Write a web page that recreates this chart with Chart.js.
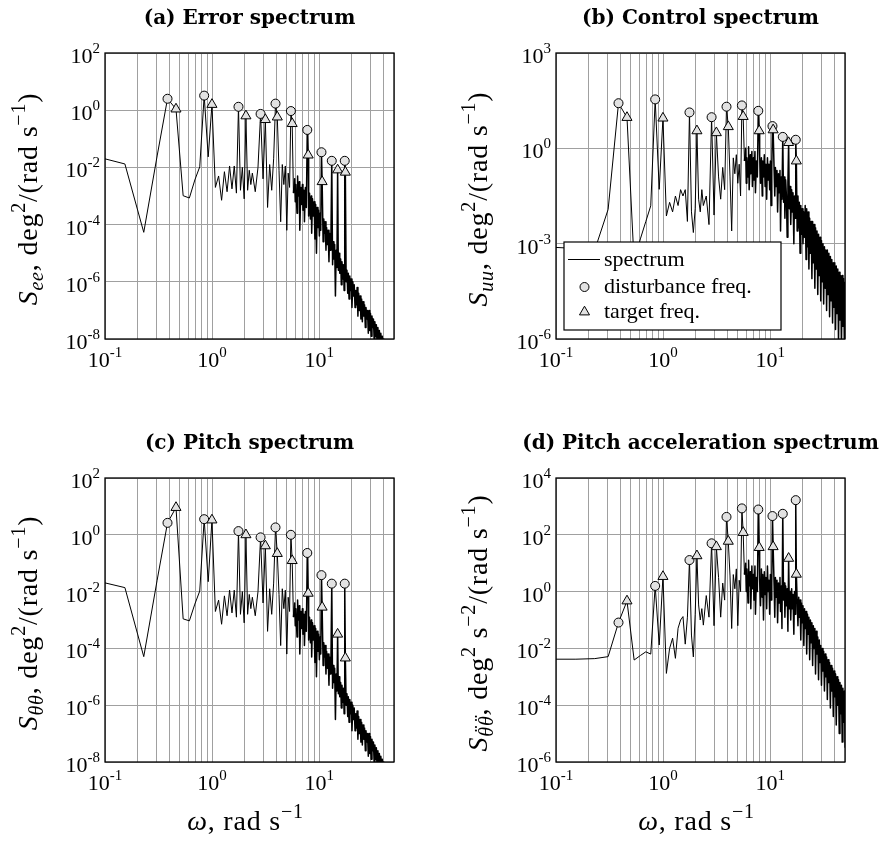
<!DOCTYPE html>
<html>
<head>
<meta charset="utf-8">
<script src="https://cdn.jsdelivr.net/npm/chart.js@4.4.0/dist/chart.umd.min.js"></script>
<style>
  body { margin: 0; background: #fff; }
  #wrap { position: relative; width: 886px; height: 841px; }
  canvas { position: absolute; }
</style>
</head>
<body>
<div id="wrap">
  <canvas id="pa" width="443" height="420" style="left:0;top:0"></canvas>
  <canvas id="pb" width="443" height="420" style="left:443px;top:0"></canvas>
  <canvas id="pc" width="443" height="420" style="left:0;top:421px"></canvas>
  <canvas id="pd" width="443" height="420" style="left:443px;top:421px"></canvas>
</div>
<script>
// frequency resolution of the spectra (measurement time 81.92 s)
const DW = 2 * Math.PI / 81.92;

// FFT bins used for the spectrum lines (shared by all four panels)
const bins = [
  1, 2, 3, 4, 5, 6, 7, 8, 9, 10,
  11, 12, 13, 14, 15, 16, 17, 18, 19, 20,
  21, 22, 23, 24, 25, 26, 27, 28, 29, 30,
  31, 33, 35, 37, 39, 41, 43, 45, 47, 49,
  51, 53, 55, 57, 59, 61, 63, 65, 67, 69,
  71, 73, 75,
  77, 78, 79, 81, 82, 83, 85, 86, 88, 89,
  91, 92, 94, 95, 97, 99, 101, 103, 104, 106,
  108, 110, 111, 113, 115, 117, 119, 121, 123, 125,
  127, 129, 131, 133, 135, 137, 139, 142, 144, 146,
  148, 151, 153, 156, 158, 161, 163, 166, 168, 171,
  174, 177, 179, 182, 185, 188, 191, 194, 197, 200,
  203, 207, 210, 213, 217, 220, 223, 226, 229, 233,
  237, 241, 244, 248, 252, 256, 260, 264, 269, 273,
  277, 282, 286, 291, 295, 300, 305, 310, 315, 320,
  325, 330, 335, 341, 346, 352, 357, 363, 369, 375,
  381, 387, 393, 399, 406, 412, 419, 426, 432, 439,
  446, 453, 461, 468, 476, 483, 491, 499, 507, 515,
  523, 532, 540, 549, 558, 567, 576, 585, 594, 604,
  614, 623, 633, 644, 654, 660
];

// forcing function bins
const distBins = [5, 11, 23, 37, 51, 71, 101, 137, 171, 226];
const targBins = [6, 13, 27, 41, 53, 73, 103, 139, 194, 229];

// vertical grid lines
const xGrid = [0.1, 0.2, 0.3, 0.4, 0.5, 0.6, 0.7, 0.8, 0.9,
  1, 2, 3, 4, 5, 6, 7, 8, 9, 10, 20, 30, 40, 50];

// spectra, log10 of the value
const errSpec = [
  -1.59, -1.88, -4.27, -1.60, 0.40, 0.04, -2.99, -3.07, -2.44, -1.98,
  0.51, -1.63, 0.20, -2.70, -2.30, -3.15, -2.15, -2.85, -1.95, -2.75,
  -1.95, -2.90, 0.12, -2.80, -2.00, -3.10, -0.20, -2.80, -2.10, -2.60,
  -2.20, -2.85, -2.00, -0.13, -2.40, -0.33, -3.40, -1.90, -2.80, -1.70,
  0.23, -0.24, -2.10, -3.90, -1.90, -2.60, -1.95, -4.20, -2.20, -2.70,
  -0.03, -0.47, -2.90,
  -2.4, -3.2, -2.6, -3.6, -2.3, -3.0, -2.5, -4.2, -2.7, -3.3,
  -2.6, -3.5, -2.8, -3.9, -2.7, -3.4, -0.69, -1.57, -3.7, -2.9,
  -3.8, -3.0, -4.3, -3.1, -3.7, -3.2, -4.5, -3.3, -5.0, -3.4,
  -4.1, -3.5, -4.4, -3.6, -4.2, -1.47, -2.50, -4.6, -3.8, -4.3,
  -3.9, -4.9, -4.1, -4.7, -4.2, -5.3, -4.3, -4.9, -4.4, -1.77,
  -5.4, -4.6, -5.2, -4.7, -6.5, -4.9, -5.5, -2.09, -5.6, -5.0,
  -5.7, -5.2, -6.1, -5.3, -5.9, -5.4, -6.3, -1.77, -2.17, -6.0,
  -5.6, -6.4, -5.7, -6.6, -5.8, -6.3, -5.9, -6.9, -6.0, -6.5,
  -6.1, -6.9, -6.3, -6.8, -6.2, -7.2, -6.4, -7.0, -6.5, -7.3,
  -6.6, -7.4, -6.7, -7.2, -6.8, -7.6, -6.9, -7.3, -7.0, -7.8,
  -7.0, -7.7, -7.1, -7.9, -7.2, -7.6, -7.3, -8.1, -7.4, -7.9,
  -7.5, -8.2, -7.6, -8.0, -7.7, -8.4, -7.8, -8.2, -7.9, -8.6,
  -8.0, -8.5, -8.1, -8.7, -8.2, -8.6, -8.3, -8.9, -8.4, -8.8,
  -8.5, -9.0, -8.6, -9.1, -8.7, -9.0
];
const ctrlSpec = [
  -3.10, -3.15, -3.20, -1.92, 1.42, 0.97, -3.60, -2.85, -2.30, -1.81,
  1.54, -1.29, 0.95, -2.13, -1.70, -2.00, -1.50, -1.80, -1.30, -1.50,
  -1.30, -2.30, 1.13, -2.00, -2.65, -1.90, 0.55, -1.60, -2.00, -1.30,
  -1.80, -1.50, -2.40, 0.98, -2.10, 0.49, -0.90, -1.60, -0.60, -1.30,
  1.31, 0.68, -0.90, -2.60, -0.30, -0.80, -0.20, -1.10, -0.50, -1.50,
  1.35, 1.00, -0.40,
  0.0, -1.1, -0.3, -0.9, 0.05, -1.3, -0.2, -0.8, -0.1, -1.2,
  -0.3, -1.0, -0.1, -1.4, -0.4, -0.9, 1.18, 0.55, -0.2, -1.1,
  -0.3, -1.5, -0.4, -0.9, -0.2, -1.2, -0.5, -1.6, -0.3, -1.0,
  -0.5, -1.3, -0.4, -1.8, -0.6, 0.70, 0.58, -0.7, -1.5, -0.6,
  -1.2, -0.7, -2.0, -0.8, -1.4, -0.7, -2.6, -0.9, -1.6, 0.36,
  -1.7, -0.9, -2.2, -1.0, -1.5, -2.8, -1.1, 0.18, -1.9, -1.2,
  -2.4, -1.3, -2.0, -1.4, -3.0, -1.5, -2.2, 0.27, -0.40, -2.6,
  -1.5, -2.5, -1.7, -3.3, -1.8, -2.7, -1.9, -3.0, -2.0, -2.8,
  -1.8, -3.5, -1.9, -3.1, -2.0, -3.8, -2.2, -3.3, -2.3, -4.1,
  -2.3, -3.6, -2.4, -4.4, -2.5, -3.8, -2.6, -4.6, -2.7, -4.0,
  -2.8, -4.8, -2.9, -4.2, -3.0, -4.9, -3.1, -4.4, -3.2, -5.1,
  -3.2, -4.6, -3.3, -5.3, -3.4, -4.8, -3.5, -5.5, -3.6, -5.0,
  -3.6, -5.7, -3.7, -5.2, -3.8, -6.1, -3.9, -5.4, -4.0, -6.3,
  -4.0, -5.6, -4.1, -6.4, -4.2, -6.2
];
const pitchSpec = [
  -1.59, -1.86, -4.29, -1.60, 0.42, 0.96, -2.96, -3.03, -2.44, -1.98,
  0.55, -1.65, 0.52, -2.70, -2.30, -3.15, -2.15, -2.85, -1.95, -2.75,
  -1.95, -2.90, 0.13, -2.80, -2.00, -3.10, 0.00, -2.80, -2.10, -2.60,
  -2.20, -2.85, -2.00, -0.09, -2.40, -0.39, -3.40, -1.90, -2.80, -1.70,
  0.26, -0.66, -2.10, -3.90, -1.90, -2.60, -1.95, -4.20, -2.20, -2.70,
  0.00, -0.91, -2.90,
  -2.4, -3.2, -2.6, -3.6, -2.3, -3.0, -2.5, -4.2, -2.7, -3.3,
  -2.6, -3.5, -2.8, -3.9, -2.7, -3.4, -0.64, -2.06, -3.7, -2.9,
  -3.8, -3.0, -4.3, -3.1, -3.7, -3.2, -4.5, -3.3, -5.0, -3.4,
  -4.1, -3.5, -4.4, -3.6, -4.2, -1.42, -2.55, -4.6, -3.8, -4.3,
  -3.9, -4.9, -4.1, -4.7, -4.2, -5.3, -4.3, -4.9, -4.4, -1.72,
  -5.4, -4.6, -5.2, -4.7, -6.5, -4.9, -5.5, -3.50, -5.6, -5.0,
  -5.7, -5.2, -6.1, -5.3, -5.9, -5.4, -6.3, -1.72, -4.34, -6.0,
  -5.6, -6.4, -5.7, -6.6, -5.8, -6.3, -5.9, -6.9, -6.0, -6.5,
  -6.1, -6.9, -6.3, -6.8, -6.2, -7.2, -6.4, -7.0, -6.5, -7.3,
  -6.6, -7.4, -6.7, -7.2, -6.8, -7.6, -6.9, -7.3, -7.0, -7.8,
  -7.0, -7.7, -7.1, -7.9, -7.2, -7.6, -7.3, -8.1, -7.4, -7.9,
  -7.5, -8.2, -7.6, -8.0, -7.7, -8.4, -7.8, -8.2, -7.9, -8.6,
  -8.0, -8.5, -8.1, -8.7, -8.2, -8.6, -8.3, -8.9, -8.4, -8.8,
  -8.5, -9.0, -8.6, -9.1, -8.7, -9.0
];
const accSpec = [
  -2.38, -2.38, -2.36, -2.29, -1.09, -0.33, -2.41, -2.25, -2.12, -2.20,
  0.20, -1.88, 0.53, -2.88, -2.00, -1.64, -2.35, -1.29, -1.00, -0.88,
  -1.85, -0.90, 1.11, -1.53, -2.30, -0.80, 1.26, -0.47, -1.00, -0.60,
  -1.18, -0.14, -0.90, 1.70, -1.20, 1.58, 0.50, -0.90, 0.30, -0.30,
  2.63, 1.77, 0.55, -1.30, 0.60, 0.10, 0.80, -1.20, 0.40, 0.00,
  2.93, 2.08, 0.60,
  1.0, 0.0, 0.8, -0.4, 1.1, 0.2, 0.7, -0.6, 0.9, 0.1,
  0.6, -0.3, 0.9, -0.8, 0.5, 0.0, 2.89, 1.55, 0.4, -0.5,
  0.8, -0.2, 0.6, -1.0, 0.7, -0.1, 0.5, -0.6, 0.9, 0.0,
  0.4, -0.8, 0.6, -0.3, 0.3, 2.66, 1.58, 0.2, -0.9, 0.5,
  -0.2, 0.4, -1.1, 0.3, -0.4, 0.5, -0.7, 0.2, -1.3, 2.74,
  -0.3, 0.3, -0.9, 0.2, -0.5, 0.1, -1.4, 1.17, -0.6, 0.0,
  -1.0, 0.1, -0.6, -0.1, -1.5, 0.0, -0.8, 3.22, 0.61, -0.3,
  -1.2, -0.2, -0.9, -0.3, -1.7, -0.4, -1.1, -0.5, -1.9, -0.6,
  -1.3, -0.7, -2.2, -0.8, -1.5, -0.9, -2.4, -1.0, -1.8, -1.1,
  -2.6, -1.2, -2.0, -1.3, -2.9, -1.4, -2.2, -1.6, -3.1, -1.7,
  -2.5, -1.9, -3.3, -2.0, -2.8, -2.1, -3.5, -2.2, -3.0, -2.3,
  -3.8, -2.4, -3.2, -2.5, -4.1, -2.6, -3.5, -2.7, -4.4, -2.8,
  -3.7, -2.9, -4.7, -3.0, -4.0, -3.1, -5.0, -3.2, -4.3, -3.3,
  -5.3, -3.4, -4.6, -3.5, -5.5, -3.6
];

// marker levels (log10) at the disturbance / target frequencies
const errDist = [0.40, 0.51, 0.12, -0.13, 0.23, -0.03, -0.69, -1.47, -1.77, -1.77];
const errTarg = [0.04, 0.20, -0.20, -0.33, -0.24, -0.47, -1.57, -2.50, -2.09, -2.17];
const ctrlDist = [1.42, 1.54, 1.13, 0.98, 1.31, 1.35, 1.18, 0.70, 0.36, 0.27];
const ctrlTarg = [0.97, 0.95, 0.55, 0.49, 0.68, 1.00, 0.55, 0.58, 0.18, -0.40];
const pitchDist = [0.42, 0.55, 0.13, -0.09, 0.26, 0.00, -0.64, -1.42, -1.72, -1.72];
const pitchTarg = [0.96, 0.52, 0.00, -0.39, -0.66, -0.91, -2.06, -2.55, -3.50, -4.34];
const accDist = [-1.09, 0.20, 1.11, 1.70, 2.63, 2.93, 2.89, 2.66, 2.74, 3.22];
const accTarg = [-0.33, 0.53, 1.26, 1.58, 1.77, 2.08, 1.55, 1.58, 1.17, 0.61];

// y tick exponents
const yExpA = [2, 0, -2, -4, -6, -8];
const yExpB = [3, 0, -3, -6];
const yExpD = [4, 2, 0, -2, -4, -6];
const xExp = [-1, 0, 1];

const SERIF = '"Liberation Serif", "Times New Roman", serif';
const GRID = '#a0a0a0';
const MARK_FILL = '#e2e2e2';

function toPoints(ks, logs) {
  return ks.map((k, i) => ({ x: k * DW, y: Math.pow(10, logs[i]) }));
}

// rich text helpers (sub/superscripts)
function segFont(s) {
  return (s.b ? 'bold ' : '') + (s.i ? 'italic ' : '') + s.size + 'px ' + SERIF;
}
function richWidth(ctx, segs, ls) {
  ctx.letterSpacing = (ls || 0) + 'px';
  let w = 0;
  segs.forEach(s => { ctx.font = segFont(s); w += ctx.measureText(s.t).width; });
  ctx.letterSpacing = '0px';
  return w;
}
function drawRich(ctx, segs, x, y, ls) {
  ctx.letterSpacing = (ls || 0) + 'px';
  segs.forEach(s => {
    ctx.font = segFont(s);
    const wt = ctx.measureText(s.t).width;
    ctx.fillText(s.t, x, y + (s.dy || 0));
    if (s.acc) {
      // double dot over the glyph
      const wa = ctx.measureText(s.acc).width;
      ctx.fillText(s.acc, x + wt / 2 - wa / 2 + 1.5, y + (s.dy || 0) - 4);
    }
    x += wt;
  });
  ctx.letterSpacing = '0px';
}

function drawPow(ctx, exp, x, y, align) {
  const segs = [{ t: '10', size: 22 }, { t: String(exp), size: 15, dy: -10 }];
  const w = richWidth(ctx, segs);
  drawRich(ctx, segs, align === 'right' ? x - w : x - w / 2, y);
}

function yLabelSegs(sub, extra) {
  const M = 28, m = 20;
  const segs = [{ t: 'S', i: true, size: M }];
  sub.forEach(c => segs.push(Object.assign({ i: true, size: m, dy: 6 }, c)));
  segs.push({ t: ', deg', size: M }, { t: '2', size: m, dy: -12 });
  if (extra) segs.push({ t: ' s', size: M }, { t: '\u22122', size: m, dy: -12 });
  segs.push({ t: '/(rad s', size: M }, { t: '\u22121', size: m, dy: -12 }, { t: ')', size: M });
  return segs;
}

const panels = {
  pa: { title: '(a) Error spectrum', spec: errSpec, dist: errDist, targ: errTarg,
        yExp: yExpA, ylab: yLabelSegs([{ t: 'ee' }]), labX: 37,
        pad: { left: 105, right: 49, top: 53, bottom: 81 } },
  pb: { title: '(b) Control spectrum', spec: ctrlSpec, dist: ctrlDist, targ: ctrlTarg,
        yExp: yExpB, ylab: yLabelSegs([{ t: 'uu' }]), labX: 44, legend: true,
        pad: { left: 113, right: 41, top: 53, bottom: 81 } },
  pc: { title: '(c) Pitch spectrum', spec: pitchSpec, dist: pitchDist, targ: pitchTarg,
        yExp: yExpA, ylab: yLabelSegs([{ t: '\u03b8\u03b8' }]), labX: 37, xlab: true,
        pad: { left: 105, right: 49, top: 57, bottom: 79 } },
  pd: { title: '(d) Pitch acceleration spectrum', spec: accSpec, dist: accDist, targ: accTarg,
        yExp: yExpD, ylab: yLabelSegs([{ t: '\u03b8', acc: '\u00a8' }, { t: '\u03b8', acc: '\u00a8' }], true),
        labX: 44, xlab: true, pad: { left: 113, right: 41, top: 57, bottom: 79 } }
};

function drawTriangle(ctx, x, y, r) {
  ctx.beginPath();
  ctx.moveTo(x, y - r);
  ctx.lineTo(x + r * 0.866, y + r / 2);
  ctx.lineTo(x - r * 0.866, y + r / 2);
  ctx.closePath();
  ctx.fill();
  ctx.stroke();
}

const decor = {
  id: 'decor',
  afterDraw(chart) {
    const p = panels[chart.canvas.id];
    const ctx = chart.ctx;
    const a = chart.chartArea;
    const xs = chart.scales.x, ys = chart.scales.y;
    ctx.save();
    // frame
    ctx.strokeStyle = '#000';
    ctx.lineWidth = 1.3;
    ctx.strokeRect(a.left, a.top, a.right - a.left, a.bottom - a.top);

    // legend box
    if (p.legend) {
      ctx.fillStyle = '#fff';
      ctx.fillRect(a.left + 8, 242, 217, 88);
      ctx.lineWidth = 1.2;
      ctx.strokeRect(a.left + 8, 242, 217, 88);
      ctx.beginPath();
      ctx.moveTo(a.left + 12, 259.5);
      ctx.lineTo(a.left + 44, 259.5);
      ctx.lineWidth = 1;
      ctx.stroke();
      ctx.fillStyle = MARK_FILL;
      ctx.beginPath();
      ctx.arc(a.left + 28.5, 287, 4.5, 0, Math.PI * 2);
      ctx.fill();
      ctx.stroke();
      drawTriangle(ctx, a.left + 28.5, 312, 5.8);
      ctx.fillStyle = '#000';
      ctx.font = '22px ' + SERIF;
      ctx.textBaseline = 'alphabetic';
      ctx.fillText('spectrum', a.left + 48, 266);
      ctx.fillText('disturbance freq.', a.left + 48, 293);
      ctx.fillText('target freq.', a.left + 48, 318);
    }

    ctx.fillStyle = '#000';
    ctx.textBaseline = 'alphabetic';
    // tick labels
    xExp.forEach(e => drawPow(ctx, e, xs.getPixelForValue(Math.pow(10, e)), a.bottom + 28, 'center'));
    p.yExp.forEach(e => drawPow(ctx, e, a.left - 5, ys.getPixelForValue(Math.pow(10, e)) + 10, 'right'));

    // title
    ctx.font = 'bold 20px "DejaVu Serif", serif';
    ctx.textAlign = 'center';
    ctx.fillText(p.title, (a.left + a.right) / 2, a.top - 29);
    ctx.textAlign = 'left';

    // y label (rotated)
    const w = richWidth(ctx, p.ylab, 0.8);
    ctx.save();
    ctx.translate(p.labX, (a.top + a.bottom) / 2 + 3);
    ctx.rotate(-Math.PI / 2);
    drawRich(ctx, p.ylab, -w / 2, 0, 0.8);
    ctx.restore();

    // x label
    if (p.xlab) {
      const segs = [{ t: '\u03c9', i: true, size: 28 }, { t: ', rad s', size: 28 }, { t: '\u22121', size: 20, dy: -12 }];
      const wx = richWidth(ctx, segs, 0.8);
      drawRich(ctx, segs, (a.left + a.right) / 2 - wx / 2 - 4, a.bottom + 68, 0.8);
    }
    ctx.restore();
  }
};

Object.keys(panels).forEach(id => {
  const p = panels[id];
  new Chart(document.getElementById(id), {
    type: 'scatter',
    data: {
      datasets: [
        {
          label: 'spectrum',
          data: toPoints(bins, p.spec),
          showLine: true,
          borderColor: '#000',
          borderWidth: 1,
          borderJoinStyle: 'round',
          pointRadius: 0,
          tension: 0,
          // the dense high-frequency part reads as a solid band in the original
          segment: { borderWidth: c => (c.p0.parsed.x > 5.6 ? 1.5 : 1) },
          order: 3
        },
        {
          label: 'disturbance freq.',
          data: toPoints(distBins, p.dist),
          pointStyle: 'circle',
          pointRadius: 4.5,
          backgroundColor: MARK_FILL,
          borderColor: '#000',
          borderWidth: 1,
          order: 2
        },
        {
          label: 'target freq.',
          data: toPoints(targBins, p.targ),
          pointStyle: 'triangle',
          pointRadius: 5.8,
          backgroundColor: MARK_FILL,
          borderColor: '#000',
          borderWidth: 1,
          order: 1
        }
      ]
    },
    options: {
      responsive: false,
      animation: false,
      devicePixelRatio: 1,
      events: [],
      layout: { padding: p.pad, autoPadding: false },
      plugins: { legend: { display: false }, tooltip: { enabled: false } },
      scales: {
        x: {
          type: 'logarithmic',
          min: 0.1,
          max: 50,
          border: { display: false },
          grid: { color: GRID, lineWidth: 1, drawTicks: false },
          ticks: { display: false },
          afterBuildTicks: s => { s.ticks = xGrid.map(v => ({ value: v })); }
        },
        y: {
          type: 'logarithmic',
          min: Math.pow(10, p.yExp[p.yExp.length - 1]),
          max: Math.pow(10, p.yExp[0]),
          border: { display: false },
          grid: { color: GRID, lineWidth: 1, drawTicks: false },
          ticks: { display: false },
          afterBuildTicks: s => { s.ticks = p.yExp.map(e => ({ value: Math.pow(10, e) })); }
        }
      }
    },
    plugins: [decor]
  });
});
</script>
</body>
</html>
